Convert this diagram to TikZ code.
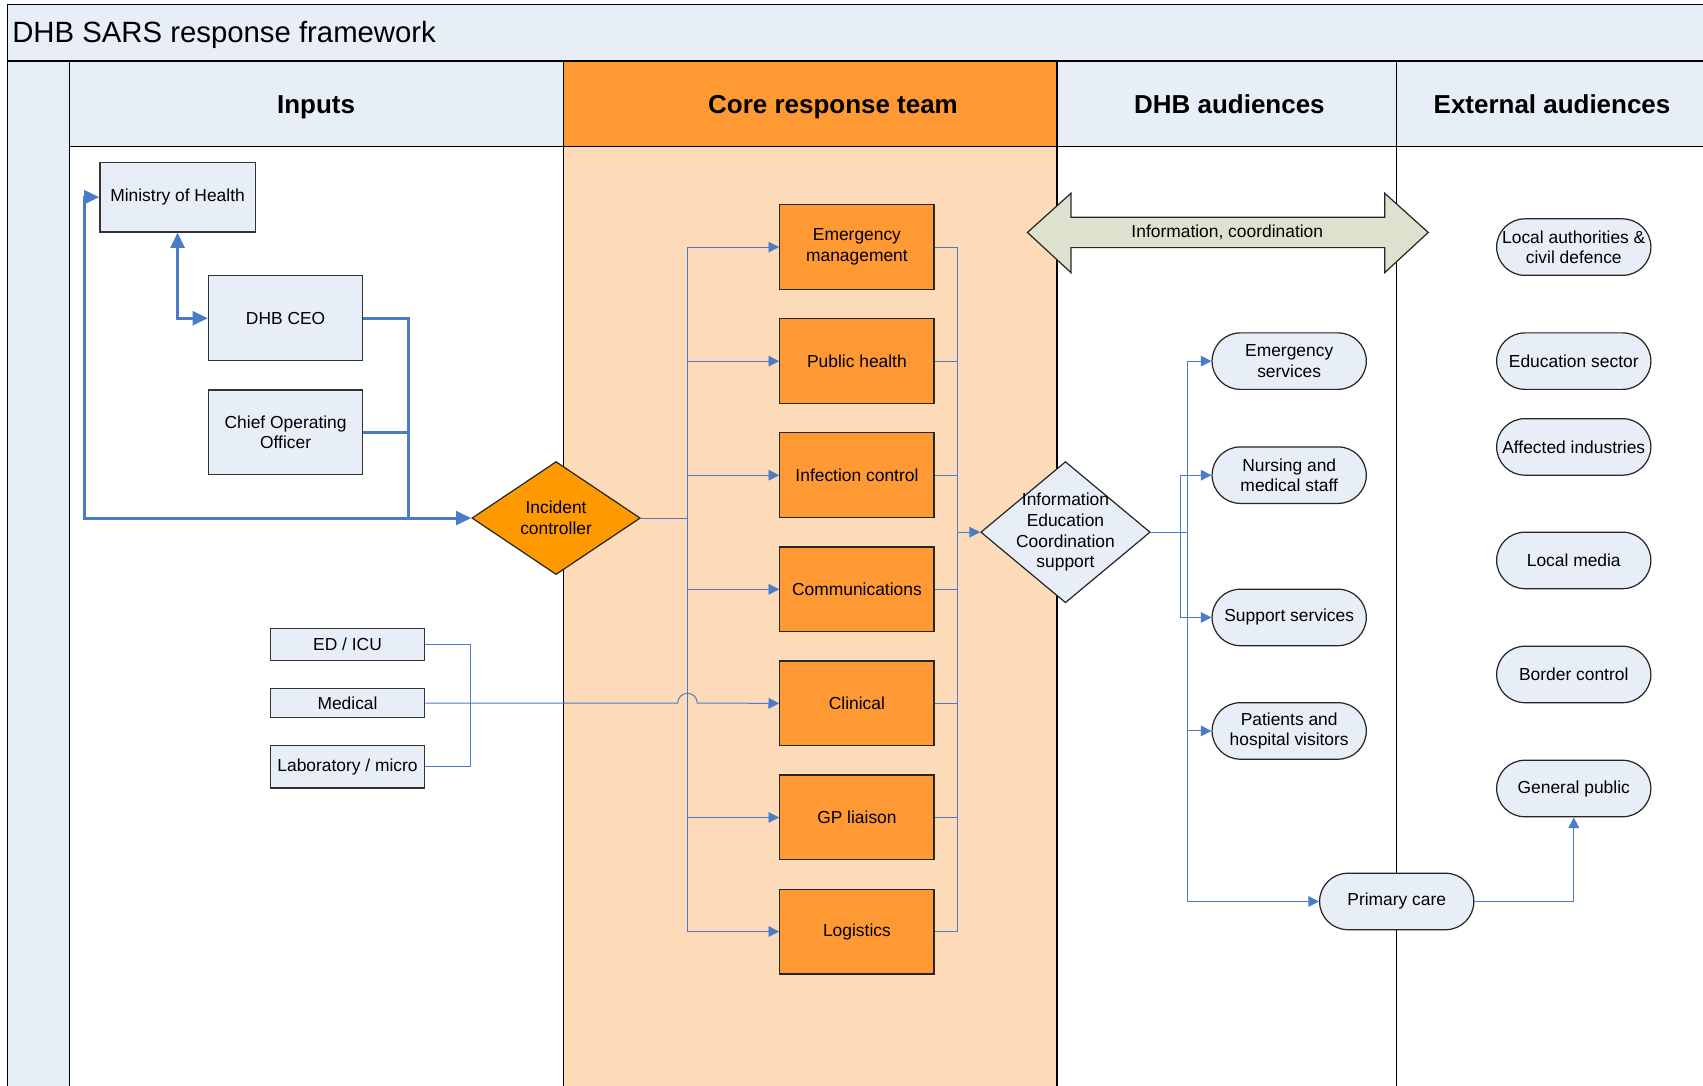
\documentclass[tikz,border=0pt]{standalone}
\usepackage{fontspec}
\setmainfont{Liberation Sans}
\usepackage{tikz}
\usetikzlibrary{arrows,arrows.meta,shapes,positioning}
\usepackage{xcolor}

\definecolor{paleblue}{RGB}{232,238,248}
\definecolor{coreorange}{RGB}{255,153,51}
\definecolor{icorange}{RGB}{255,153,0}
\definecolor{peach}{RGB}{253,219,185}
\definecolor{sage}{RGB}{221,226,207}
\definecolor{linkblue}{RGB}{74,124,200}

\tikzset{
  txt/.style={font=\fontsize{11.4}{13.5}\selectfont, align=center},
  inbox/.style={txt, draw=black!80, fill=paleblue, line width=0.8pt, minimum width=3.55cm, inner sep=0pt},
  corebox/.style={txt, draw=black!85, fill=coreorange, line width=0.8pt, minimum width=3.55cm, minimum height=1.95cm, inner sep=0pt},
  pill/.style={txt, draw=black!85, fill=paleblue, line width=0.8pt, rounded corners=0.65cm, minimum width=3.55cm, minimum height=1.3cm, inner sep=0pt},
  decide/.style={diamond, draw=black!85, line width=0.8pt, inner sep=0pt},
  lanehead/.style={font=\fontsize{17}{20}\selectfont\bfseries, anchor=base},
  lane/.style={line width=1pt},
  link/.style={draw=linkblue, line width=0.65pt, >={Triangle[length=7pt,width=7pt]}},
  thicklink/.style={draw=linkblue, line width=2pt, >={Triangle[length=10pt,width=9pt]}}
}

\begin{document}
\begin{tikzpicture}[x=0.025cm, y=-0.025cm, node distance=0.647cm]
\useasboundingbox (0,0) rectangle (1568,999);
\clip (0,0) rectangle (1568,999);

% swimlanes
\fill[paleblue] (7,4) rectangle (1600,56);
\fill[paleblue] (7,56) rectangle (64,1020);
\fill[paleblue] (64,56) rectangle (519,135);
\fill[coreorange] (519,56) rectangle (973,135);
\fill[peach] (519,135) rectangle (973,1020);
\fill[paleblue] (973,56) rectangle (1600,135);
\draw[lane] (7,1020) -- (7,4) -- (1600,4);
\draw[lane] (7,56) -- (1600,56);
\draw[lane] (64,135) -- (1600,135);
\foreach \x in {64,519,973,1286}
  \draw[lane] (\x,56) -- (\x,1020);

\node[anchor=base west, font=\fontsize{19.2}{22}\selectfont, inner sep=0pt] (title) at (11,39.5) {DHB SARS response framework};
\node[lanehead] (hinputs) at (291,104.5) {Inputs};
\node[lanehead] (hcore) at (767,104.5) {Core response team};
\node[lanehead] (hdhb) at (1132,104.5) {DHB audiences};
\node[lanehead] (hext) at (1429,104.5) {External audiences};

% inputs
\node[inbox, minimum width=3.575cm, minimum height=1.6cm] (moh) at (163.5,181.5) {Ministry of Health};
\node[inbox, minimum height=1.95cm] (ceo) at (263,293) {DHB CEO};
\node[inbox, minimum height=1.95cm] (coo) at (263,398) {Chief Operating\\Officer};
\node[inbox, minimum height=0.725cm] (edicu) at (320,593.5) {ED / ICU};
\node[inbox, minimum height=0.66cm] (medical) at (320,647.3) {Medical};
\node[inbox, minimum height=0.975cm] (lab) at (320,706) {Laboratory / micro};

% core team
\node[decide, fill=icorange, txt, minimum width=3.875cm, minimum height=2.6cm] (ic) at (512,477) {Incident\\controller};
\node[corebox] (emgmt) at (789,227.5) {Emergency\\management};
\node[corebox, below=of emgmt] (pubh) {Public health};
\node[corebox, below=of pubh] (infect) {Infection control};
\node[corebox, below=of infect] (comms) {Communications};
\node[corebox, below=of comms] (clinical) {Clinical};
\node[corebox, below=of clinical] (gp) {GP liaison};
\node[corebox, below=of gp] (logist) {Logistics};

\draw[draw=black!85, fill=sage, line width=0.8pt] (946,214) -- (986,178) -- (986,200) -- (1275,200) -- (1275,178)
  -- (1315,214) -- (1275,251) -- (1275,228) -- (986,228) -- (986,251) -- cycle;
\node[txt] (infocoord) at (1130,214) {Information, coordination};

\node[decide, fill=paleblue, minimum width=3.9cm, minimum height=3.25cm,
  label={[txt]center:Information\\Education\\Coordination\\support}] (iecs) at (981,490) {};

% audiences
\node[pill] (emsvc) at (1187,332.5) {Emergency\\services};
\node[pill] (nurse) at (1187,437.5) {Nursing and\\medical staff};
\node[pill] (support) at (1187,568.5) {Support services};
\node[pill] (patients) at (1187,673) {Patients and\\hospital visitors};
\node[pill] (primary) at (1286,830) {Primary care};
\node[pill] (localauth) at (1449,227.5) {Local authorities \&\\civil defence};
\node[pill] (edu) at (1449,332.5) {Education sector};
\node[pill] (industry) at (1449,411.5) {Affected industries};
\node[pill] (media) at (1449,516) {Local media};
\node[pill] (border) at (1449,621) {Border control};
\node[pill] (public) at (1449,726) {General public};

% connectors
\coordinate (join) at (376.5,477);
\coordinate (loopcorner) at (78,477);
\draw[thicklink, <->] (moh.south) |- (ceo.west);
\draw[thicklink, ->] (ceo.east) -| (join) -- (ic.west);
\draw[thicklink] (coo.east) -| (join);
\draw[thicklink, ->] (join) -- (loopcorner) |- (moh.west);

\coordinate (lbus) at (633,477);
\coordinate (rbus) at (882,490);
\draw[link] (ic.east) -- (lbus);
\foreach \n in {emgmt,pubh,infect,comms,gp,logist}
  \draw[link, ->] (lbus) |- (\n.west);
\foreach \n in {emgmt,pubh,infect,comms,clinical,gp,logist}
  \draw[link] (\n.east) -| (rbus);
\draw[link, ->] (rbus) -- (iecs.west);

\coordinate (injoin) at (433,647.3);
\coordinate (hopstart) at (624,647.3);
\draw[link] (edicu.east) -| (injoin);
\draw[link] (lab.east) -| (injoin);
\draw[link, ->] (medical.east) -- (injoin) -- (hopstart) arc[start angle=180, end angle=0, radius=0.225cm] -- (clinical.west);

\coordinate (dbus) at (1093,490);
\coordinate (dbusin) at (1086.5,490);
\draw[link] (iecs.east) -- (dbus);
\draw[link, ->] (dbus) |- (emsvc.west);
\draw[link, ->] (dbusin) |- (nurse.west);
\draw[link, ->] (dbusin) |- (support.west);
\draw[link, ->] (dbus) |- (patients.west);
\draw[link, ->] (dbus) |- (primary.west);
\draw[link, ->] (primary.east) -| (public.south);
\end{tikzpicture}
\end{document}
